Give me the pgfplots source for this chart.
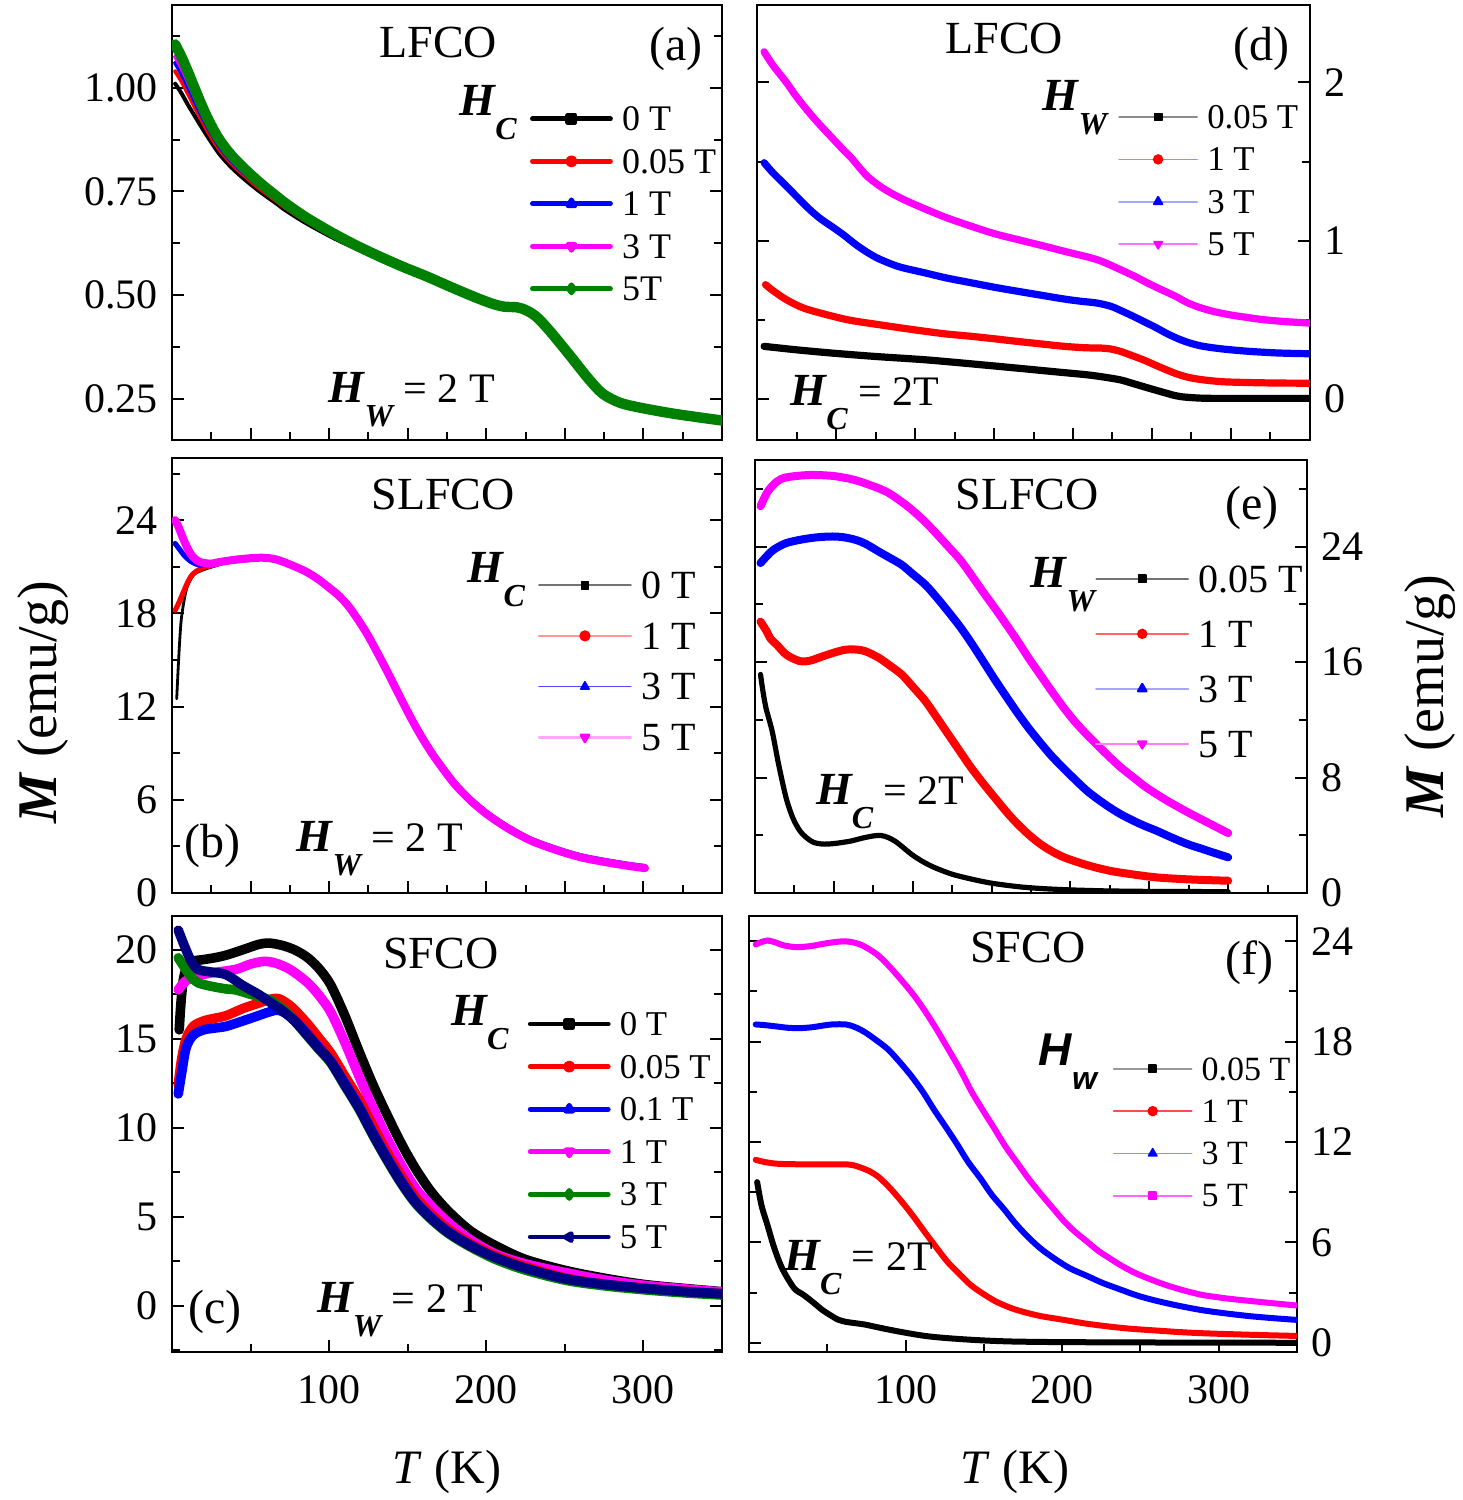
\documentclass[border=0pt]{standalone}
\usepackage{fontspec}
\setmainfont{Liberation Serif}
\setsansfont{Liberation Sans}
\usepackage{pgfplots}
\pgfplotsset{compat=1.18}
\definecolor{mygreen}{RGB}{0,128,0}
\definecolor{navy}{RGB}{0,0,128}
\definecolor{mag}{RGB}{255,0,255}
\definecolor{red}{RGB}{255,0,0}
\definecolor{blue}{RGB}{0,0,255}
\newcommand{\Hs}[2][11.5]{{\fontsize{#1}{#1}\selectfont\bfseries\itshape H}\raisebox{-6pt}{\fontsize{8}{8}\selectfont\bfseries\itshape #2}}
\newcommand{\Hss}[1]{{\sffamily\fontsize{11.5}{11.5}\selectfont\bfseries\itshape H}\raisebox{-6pt}{\sffamily\fontsize{8}{8}\selectfont\bfseries\itshape #1}}
\newcommand{\ttl}{\fontsize{11.5}{12}\selectfont}
\newcommand{\plab}{\fontsize{12}{12}\selectfont}
\newcommand{\eqf}{\fontsize{10.5}{12}\selectfont}
\pgfplotsset{
  panel/.style={
    scale only axis, anchor=south west,
    xmin=0, xmax=350,
    axis line style={line width=0.6pt},
    every tick/.style={black, line width=0.5pt},
    major tick length=3pt, minor tick length=2pt,
    tick align=inside,
    xtick pos=left, ytick pos=both,
    tick label style={font=\fontsize{10.5}{12}\selectfont},
    /pgf/number format/assume math mode=true,
    clip mode=individual,
    legend cell align=left,
    every axis plot/.append style={line join=round, line cap=round},
  },
  toprow/.style={xtick={50,100,...,300}, minor xtick={25,75,...,325}, xticklabels={}},
  botrow/.style={xtick={100,200,300}, minor xtick={50,150,250}, xticklabels={100,200,300},
     xticklabel style={yshift=-2.4pt}},
  leg/.style n args={7}{legend style={at={(#1,#2)}, anchor=north west, draw=none, fill=none,
     inner sep=0pt, outer sep=0pt, column sep=2.3pt, font=\fontsize{#3}{#3}\selectfont,
     nodes={inner sep=0pt, text height=#4, text depth=#5}},
     legend image code/.code={\draw[mark repeat=2,mark phase=2,##1] plot coordinates {(0pt,0pt) (#6,0pt) (#7,0pt)};}},
}
\begin{document}
\begin{tikzpicture}
\useasboundingbox (0,0) rectangle (365.75pt,375pt);
%================ (a)
\begin{axis}[panel, toprow, at={(43pt,265pt)}, width=137.5pt, height=108.75pt,
  ymin=0.15, ymax=1.2, ytick={0.25,0.5,0.75,1}, yticklabels={0.25,0.50,0.75,1.00},
  minor ytick={0.375,0.625,0.875,1.125}, yticklabel pos=left,
  leg={0.651}{0.787}{9}{8.26pt}{2.36pt}{9.75pt}{19.5pt}]
\addlegendimage{black, line width=1.2pt, mark=square*, mark size=0.9pt}
\addlegendentry{0 T}
\addlegendimage{red, line width=1.2pt, mark=*, mark size=0.9pt}
\addlegendentry{0.05 T}
\addlegendimage{blue, line width=1.2pt, mark=triangle*, mark size=1pt}
\addlegendentry{1 T}
\addlegendimage{mag, line width=1.2pt, mark=triangle*, mark size=1pt, mark options={rotate=180}}
\addlegendentry{3 T}
\addlegendimage{mygreen, line width=1.2pt, mark=diamond*, mark size=1pt}
\addlegendentry{5T}
\addplot[black, line width=1pt, smooth, forget plot] coordinates {(2,1.01)(6,0.987)(10,0.96)(14,0.935)(18,0.91)(22,0.886)(26,0.863)(30,0.841)(35,0.819)(40,0.80)(45,0.783)(50,0.767)(55,0.752)(60,0.738)(66,0.722)(72,0.705)(85,0.674)(102,0.639)(117,0.612)(132,0.587)(147,0.564)(162,0.543)(177,0.52)(192,0.496)(203,0.48)(211,0.472)(220,0.47)(226,0.462)(232,0.447)(240,0.415)(253,0.355)(265,0.298)(274,0.262)(285,0.24)(298,0.228)(320,0.213)(350,0.197)};
\addplot[red, line width=1pt, smooth, forget plot] coordinates {(2,1.04)(6,1.016)(10,0.987)(14,0.957)(18,0.928)(22,0.90)(26,0.874)(30,0.852)(35,0.829)(40,0.809)(45,0.792)(50,0.775)(55,0.759)(60,0.745)(66,0.728)(72,0.711)(85,0.679)(102,0.643)(117,0.615)(132,0.589)(147,0.565)(162,0.544)(177,0.52)(192,0.496)(203,0.48)(211,0.472)(220,0.47)(226,0.462)(232,0.447)(240,0.415)(253,0.355)(265,0.298)(274,0.262)(285,0.24)(298,0.228)(320,0.213)(350,0.197)};
\addplot[blue, line width=1pt, smooth, forget plot] coordinates {(2,1.06)(6,1.034)(10,1.003)(14,0.971)(18,0.939)(22,0.91)(26,0.883)(30,0.859)(35,0.835)(40,0.815)(45,0.797)(50,0.78)(55,0.764)(60,0.749)(66,0.732)(72,0.714)(85,0.682)(102,0.645)(117,0.616)(132,0.59)(147,0.566)(162,0.544)(177,0.52)(192,0.496)(203,0.48)(211,0.472)(220,0.47)(226,0.462)(232,0.447)(240,0.415)(253,0.355)(265,0.298)(274,0.262)(285,0.24)(298,0.228)(320,0.213)(350,0.197)};
\addplot[mag, line width=1pt, smooth, forget plot] coordinates {(2,1.075)(6,1.048)(10,1.016)(14,0.982)(18,0.948)(22,0.917)(26,0.889)(30,0.865)(35,0.84)(40,0.819)(45,0.801)(50,0.784)(55,0.768)(60,0.752)(66,0.735)(72,0.717)(85,0.684)(102,0.647)(117,0.618)(132,0.591)(147,0.567)(162,0.544)(177,0.52)(192,0.496)(203,0.48)(211,0.472)(220,0.47)(226,0.462)(232,0.447)(240,0.415)(253,0.355)(265,0.298)(274,0.262)(285,0.24)(298,0.228)(320,0.213)(350,0.197)};
\addplot[mygreen, line width=2.6pt, smooth, forget plot] coordinates {(2,1.105)(6,1.075)(10,1.04)(14,1.003)(18,0.966)(22,0.932)(26,0.902)(30,0.876)(35,0.85)(40,0.828)(45,0.809)(50,0.791)(55,0.774)(60,0.758)(66,0.74)(72,0.722)(85,0.688)(102,0.65)(117,0.62)(132,0.593)(147,0.568)(162,0.545)(177,0.52)(192,0.496)(203,0.48)(211,0.472)(220,0.47)(226,0.462)(232,0.447)(240,0.415)(253,0.355)(265,0.298)(274,0.262)(285,0.24)(298,0.228)(320,0.213)(350,0.197)};
\node at (rel axis cs:0.484,0.913) {\ttl LFCO};
\node at (rel axis cs:0.916,0.90) {\plab (a)};
\node at (rel axis cs:0.575,0.752) {\Hs{C}};
\node at (rel axis cs:0.436,0.092) {\Hs{W}{\eqf\ = 2 T}};
\end{axis}
%================ (b)
\begin{axis}[panel, toprow, at={(43pt,151.75pt)}, width=137.5pt, height=108.75pt,
  ymin=0, ymax=28, ytick={0,6,12,18,24}, minor ytick={3,9,15,21,27}, yticklabel pos=left,
  leg={0.665}{0.766}{10}{9.64pt}{3.04pt}{11.5pt}{23pt}]
\addlegendimage{black!55, line width=0.4pt, mark=square*, mark size=0.9pt, mark options={black}}
\addlegendentry{0 T}
\addlegendimage{red!40, line width=0.6pt, mark=*, mark size=1.1pt, mark options={red}}
\addlegendentry{1 T}
\addlegendimage{blue!70, line width=0.4pt, mark=triangle*, mark size=1.2pt, mark options={blue}}
\addlegendentry{3 T}
\addlegendimage{mag!35, line width=0.6pt, mark=triangle*, mark size=1.2pt, mark options={mag, rotate=180}}
\addlegendentry{5 T}
\addplot[black, line width=0.7pt, smooth, forget plot] coordinates {(3,12.5)(4,14.6)(5,16.4)(6,17.7)(8,19.0)(10,19.8)(14,20.5)(20,20.8)(26,21.0)(35,21.25)(50,21.4)(58,21.5)(66,21.45)(75,21.15)(85,20.7)(93,20.2)(100,19.65)(106,19.15)(112,18.5)(118,17.65)(124,16.7)(130,15.6)(136,14.45)(142,13.25)(148,12.05)(154,10.9)(160,9.85)(166,8.9)(172,8.05)(180,7.0)(190,5.95)(200,5.1)(210,4.4)(220,3.8)(230,3.3)(245,2.75)(260,2.3)(275,2.0)(290,1.75)(301,1.6)};
\addplot[red, line width=1.3pt, smooth, forget plot] coordinates {(2,18.2)(4,18.6)(7,19.3)(10,20.0)(13,20.5)(17,20.8)(22,21.0)(26,21.1)(30,21.25)(40,21.4)(50,21.5)(58,21.55)(66,21.45)(75,21.15)(85,20.7)(93,20.2)(100,19.65)(106,19.15)(112,18.5)(118,17.65)(124,16.7)(130,15.6)(136,14.45)(142,13.25)(148,12.05)(154,10.9)(160,9.85)(166,8.9)(172,8.05)(180,7.0)(190,5.95)(200,5.1)(210,4.4)(220,3.8)(230,3.3)(245,2.75)(260,2.3)(275,2.0)(290,1.75)(301,1.6)};
\addplot[blue, line width=1.3pt, smooth, forget plot] coordinates {(2,22.5)(5,22.1)(8,21.7)(12,21.35)(16,21.15)(20,21.1)(25,21.2)(30,21.3)(40,21.45)(50,21.55)(58,21.58)(66,21.48)(75,21.2)(85,20.75)(93,20.25)(100,19.7)(106,19.2)(112,18.58)(118,17.75)(124,16.8)(130,15.72)(136,14.58)(142,13.38)(148,12.18)(154,11.03)(160,9.97)(166,9.0)(172,8.15)(180,7.1)(190,6.05)(200,5.2)(210,4.5)(220,3.9)(230,3.4)(245,2.85)(260,2.4)(275,2.1)(290,1.85)(301,1.7)};
\addplot[mag, line width=2pt, smooth, forget plot] coordinates {(2,24.0)(4,23.6)(8,22.6)(12,21.8)(16,21.4)(20,21.25)(25,21.2)(30,21.3)(40,21.45)(50,21.55)(58,21.58)(66,21.48)(75,21.15)(85,20.7)(93,20.2)(100,19.65)(106,19.15)(112,18.5)(118,17.65)(124,16.7)(130,15.6)(136,14.45)(142,13.25)(148,12.05)(154,10.9)(160,9.85)(166,8.9)(172,8.05)(180,7.0)(190,5.95)(200,5.1)(210,4.4)(220,3.8)(230,3.3)(245,2.75)(260,2.3)(275,2.0)(290,1.75)(301,1.6)};
\node at (rel axis cs:0.493,0.917) {\ttl SLFCO};
\node at (rel axis cs:0.073,0.108) {\plab (b)};
\node at (rel axis cs:0.59,0.72) {\Hs{C}};
\node at (rel axis cs:0.378,0.103) {\Hs{W}{\eqf\ = 2 T}};
\end{axis}
%================ (c)
\begin{axis}[panel, botrow, at={(43pt,37pt)}, width=137.5pt, height=109pt,
  ymin=-2.6, ymax=21.9, ytick={0,5,10,15,20}, minor ytick={-2.5,2.5,7.5,12.5,17.5}, yticklabel pos=left,
  leg={0.647}{0.801}{8.7}{8.2pt}{2.45pt}{9.75pt}{19.5pt}]
\addlegendimage{black, line width=1.2pt, mark=square*, mark size=0.9pt}
\addlegendentry{0 T}
\addlegendimage{red, line width=1.2pt, mark=*, mark size=0.9pt}
\addlegendentry{0.05 T}
\addlegendimage{blue, line width=1.2pt, mark=triangle*, mark size=1pt}
\addlegendentry{0.1 T}
\addlegendimage{mag, line width=1.2pt, mark=triangle*, mark size=1pt, mark options={rotate=180}}
\addlegendentry{1 T}
\addlegendimage{mygreen, line width=1.2pt, mark=diamond*, mark size=1pt}
\addlegendentry{3 T}
\addlegendimage{navy, line width=1.2pt, mark=triangle*, mark size=1pt, mark options={rotate=90}}
\addlegendentry{5 T}
\addplot[black, line width=2.4pt, smooth, forget plot] coordinates {(4.6,15.5)(5.5,16.8)(7,18.2)(9,18.9)(13.5,19.35)(20,19.45)(27,19.55)(34.5,19.7)(45,20.0)(55,20.3)(61.6,20.38)(70,20.25)(78,20.0)(85.7,19.6)(93,19.0)(100.8,18.06)(110,16.3)(119,14.3)(128,12.4)(137,10.7)(146,9.1)(155,7.7)(165,6.4)(176,5.3)(190,4.2)(206,3.37)(225,2.6)(251,1.97)(275,1.55)(300,1.2)(325,0.98)(350,0.79)};
\addplot[mag, line width=2.4pt, smooth, forget plot] coordinates {(4,17.75)(8,18.2)(14.5,18.5)(25,18.7)(40.5,18.9)(50,19.2)(58.6,19.35)(66,19.25)(75,18.9)(85.7,18.2)(93,17.5)(101,16.5)(110,14.8)(119,12.9)(128,11.1)(137,9.4)(146,7.9)(155,6.6)(165,5.6)(176,4.66)(190,3.7)(206,2.9)(225,2.35)(251,1.85)(275,1.45)(300,1.15)(325,0.95)(350,0.77)};
\addplot[red, line width=2.4pt, smooth, forget plot] coordinates {(4,12.4)(6,13.8)(9,15.0)(13.5,15.7)(20,16.0)(27,16.15)(34.5,16.3)(45,16.7)(55,17.0)(61.6,17.2)(68,17.25)(76,16.8)(85.7,15.9)(93,15.1)(101,14.2)(110,12.9)(119,11.6)(128,10.1)(137,8.6)(146,7.3)(155,6.1)(165,5.15)(176,4.3)(190,3.5)(206,2.8)(225,2.2)(251,1.55)(275,1.22)(300,1.0)(325,0.82)(350,0.68)};
\addplot[blue, line width=2.4pt, smooth, forget plot] coordinates {(4,11.9)(6,13.0)(9,14.5)(13.5,15.2)(20,15.5)(27,15.6)(34.5,15.7)(45,16.0)(55,16.3)(61.6,16.5)(68,16.6)(76,16.2)(85.7,15.3)(93,14.55)(101,13.75)(110,12.5)(119,11.2)(128,9.7)(137,8.3)(146,7.0)(155,5.85)(165,4.95)(176,4.15)(190,3.4)(206,2.7)(225,2.1)(251,1.5)(275,1.2)(300,0.98)(325,0.8)(350,0.67)};
\addplot[mygreen, line width=2.4pt, smooth, forget plot] coordinates {(4,19.55)(8,19.0)(12,18.5)(16.5,18.15)(25,17.95)(34.5,17.8)(40.5,17.75)(50,17.5)(61.6,17.2)(70,16.7)(78,16.0)(85.7,15.2)(93,14.45)(101,13.65)(110,12.35)(119,11.05)(128,9.55)(137,8.15)(146,6.85)(155,5.75)(165,4.85)(176,4.05)(190,3.3)(206,2.6)(225,2.0)(251,1.42)(275,1.12)(300,0.9)(325,0.73)(350,0.6)};
\addplot[navy, line width=2.4pt, smooth, forget plot] coordinates {(4,21.1)(8,20.2)(12,19.4)(16.5,18.9)(25,18.75)(34.5,18.6)(45,18.0)(55,17.5)(61.6,17.1)(70,16.6)(78,16.0)(85.7,15.25)(93,14.5)(101,13.7)(110,12.4)(119,11.1)(128,9.6)(137,8.2)(146,6.9)(155,5.8)(165,4.9)(176,4.1)(190,3.35)(206,2.7)(225,2.1)(251,1.5)(275,1.2)(300,0.98)(325,0.8)(350,0.67)};
\node at (rel axis cs:0.489,0.915) {\ttl SFCO};
\node at (rel axis cs:0.078,0.092) {\plab (c)};
\node at (rel axis cs:0.56,0.755) {\Hs{C}};
\node at (rel axis cs:0.415,0.096) {\Hs{W}{\eqf\ = 2 T}};
\end{axis}
%================ (d)
\begin{axis}[panel, toprow, at={(189.25pt,265pt)}, width=138.25pt, height=108.75pt,
  ymin=-0.26, ymax=2.49, ytick={0,1,2}, minor ytick={0.5,1.5}, yticklabel pos=right,
  leg={0.653}{0.791}{8.7}{8.16pt}{2.42pt}{9.75pt}{19.5pt}]
\addlegendimage{black!45, line width=0.4pt, mark=square*, mark size=0.9pt, mark options={black}}
\addlegendentry{0.05 T}
\addlegendimage{red!55, line width=0.4pt, mark=*, mark size=1.1pt, mark options={red}}
\addlegendentry{1 T}
\addlegendimage{blue!35, line width=0.5pt, mark=triangle*, mark size=1.2pt, mark options={blue}}
\addlegendentry{3 T}
\addlegendimage{mag!55, line width=0.4pt, mark=triangle*, mark size=1.2pt, mark options={mag, rotate=180}}
\addlegendentry{5 T}
\addplot[black, line width=1.8pt, smooth, forget plot] coordinates {(4.5,0.332)(25,0.31)(48,0.289)(75,0.268)(106.5,0.247)(135,0.222)(165,0.194)(190,0.17)(209,0.152)(220,0.137)(230,0.12)(237,0.1)(244.4,0.078)(252,0.056)(259,0.036)(265,0.02)(271,0.011)(282.5,0.004)(300,0.003)(350,0.003)};
\addplot[red, line width=1.8pt, smooth, forget plot] coordinates {(5.4,0.722)(10,0.685)(18.6,0.627)(30,0.572)(48,0.522)(60,0.495)(77.2,0.469)(90,0.45)(106.5,0.427)(120,0.41)(136,0.395)(150,0.38)(165,0.363)(180,0.347)(194.5,0.332)(208,0.323)(218,0.321)(224,0.315)(230,0.30)(237,0.275)(244.4,0.247)(252,0.214)(259,0.184)(265,0.16)(271,0.141)(276,0.13)(282.5,0.12)(295,0.108)(312,0.103)(330,0.1)(350,0.099)};
\addplot[blue, line width=1.8pt, smooth, forget plot] coordinates {(4.5,1.493)(10,1.43)(18.6,1.345)(25,1.28)(33,1.2)(40,1.14)(48,1.085)(55,1.035)(60,0.995)(64,0.965)(70,0.925)(77.2,0.885)(90,0.835)(106.5,0.796)(120,0.764)(136,0.733)(150,0.706)(165,0.68)(180,0.655)(194.5,0.631)(205,0.617)(215,0.606)(224,0.585)(231,0.555)(238.5,0.52)(246,0.483)(253,0.448)(260,0.41)(268,0.374)(275,0.35)(282.5,0.332)(295,0.315)(312,0.30)(330,0.29)(350,0.285)};
\addplot[mag, line width=1.8pt, smooth, forget plot] coordinates {(4.5,2.194)(10,2.11)(18.6,2.0)(25,1.91)(33,1.81)(40,1.73)(48,1.645)(55,1.57)(60,1.52)(65,1.46)(70,1.405)(77,1.35)(85,1.3)(95,1.25)(106.5,1.2)(120,1.145)(136,1.09)(150,1.045)(165,1.007)(180,0.97)(194.5,0.933)(210,0.895)(218,0.87)(230,0.817)(240,0.77)(247,0.733)(256,0.69)(265,0.648)(272,0.61)(280,0.578)(290,0.55)(300,0.53)(310,0.515)(321,0.50)(335,0.488)(350,0.479)};
\node at (rel axis cs:0.447,0.924) {\ttl LFCO};
\node at (rel axis cs:0.913,0.90) {\plab (d)};
\node at (rel axis cs:0.575,0.763) {\Hs{W}};
\node at (rel axis cs:0.195,0.087) {\Hs{C}{\eqf\ = 2T}};
\end{axis}
%================ (e)
\begin{axis}[panel, toprow, at={(188.75pt,151.75pt)}, width=138pt, height=108.25pt,
  ymin=0, ymax=30, ytick={0,8,16,24}, minor ytick={4,12,20,28}, yticklabel pos=right,
  leg={0.616}{0.789}{10}{10.18pt}{3.57pt}{11.5pt}{23pt}]
\addlegendimage{black!55, line width=0.4pt, mark=square*, mark size=0.9pt, mark options={black}}
\addlegendentry{0.05 T}
\addlegendimage{red!60, line width=0.4pt, mark=*, mark size=1.1pt, mark options={red}}
\addlegendentry{1 T}
\addlegendimage{blue!35, line width=0.6pt, mark=triangle*, mark size=1.2pt, mark options={blue}}
\addlegendentry{3 T}
\addlegendimage{mag!50, line width=0.5pt, mark=triangle*, mark size=1.2pt, mark options={mag, rotate=180}}
\addlegendentry{5 T}
\addplot[black, line width=1.3pt, smooth, forget plot] coordinates {(3.5,15.14)(5,14.0)(7,12.8)(10.9,11.2)(15,8.9)(19.7,6.6)(24,5.2)(28.5,4.3)(33,3.8)(37.3,3.5)(42,3.4)(46,3.39)(52,3.45)(60.8,3.6)(68,3.8)(75.5,3.96)(80,3.98)(84.3,3.85)(90,3.5)(99,2.7)(106,2.2)(113.7,1.77)(125,1.3)(137,0.97)(150,0.68)(166.6,0.44)(180,0.32)(196,0.23)(210,0.18)(225,0.14)(250,0.11)(275,0.1)(300,0.09)};
\addplot[red, line width=2pt, smooth, forget plot] coordinates {(3.5,18.8)(7,18.2)(10,17.6)(13.8,17.2)(20,16.5)(28.5,16.06)(35,16.1)(43,16.4)(50,16.65)(57,16.85)(63.7,16.87)(70,16.75)(78.4,16.3)(85,15.8)(93,15.14)(100,14.3)(108,13.3)(115,12.2)(122.5,11.0)(130,9.8)(137,8.69)(145,7.55)(152,6.61)(160,5.55)(166.6,4.77)(174,4.0)(181,3.39)(188,2.9)(196,2.47)(210,1.95)(225,1.54)(240,1.28)(254.7,1.08)(270,0.97)(285,0.9)(300,0.85)};
\addplot[blue, line width=2pt, smooth, forget plot] coordinates {(3.5,22.86)(8,23.4)(12,23.8)(19.7,24.24)(30,24.5)(40,24.65)(49,24.7)(56,24.65)(63.7,24.47)(70,24.2)(78.4,23.66)(85,23.25)(93,22.74)(100,22.1)(108,21.36)(115,20.5)(122.5,19.5)(130,18.45)(137,17.35)(145,16.0)(152,14.8)(160,13.5)(166.6,12.45)(174,11.35)(181,10.4)(188,9.5)(196,8.6)(203,7.85)(210.6,7.07)(218,6.45)(225,5.92)(232,5.45)(240,5.0)(247,4.65)(254.7,4.31)(262,3.95)(269,3.62)(276,3.32)(284,3.04)(292,2.75)(300,2.47)};
\addplot[mag, line width=2pt, smooth, forget plot] coordinates {(3.5,26.8)(8,27.8)(13.8,28.5)(20,28.8)(34.4,28.96)(49,28.9)(60,28.7)(66.7,28.5)(72,28.3)(78.4,28.04)(85,27.7)(93,27.1)(100,26.5)(108,25.7)(115,24.9)(122.5,24.0)(130,23.1)(137,22.05)(145,20.8)(152,19.75)(160,18.5)(166.6,17.44)(174,16.2)(181,15.1)(188,14.0)(196,12.8)(203,11.85)(210.6,10.95)(218,10.15)(225,9.4)(232,8.7)(240,8.0)(247,7.4)(254.7,6.84)(262,6.35)(269,5.92)(276,5.5)(284,5.05)(292,4.6)(300,4.15)};
\node at (rel axis cs:0.493,0.921) {\ttl SLFCO};
\node at (rel axis cs:0.90,0.889) {\plab (e)};
\node at (rel axis cs:0.558,0.711) {\Hs{W}};
\node at (rel axis cs:0.245,0.21) {\Hs{C}{\eqf\ = 2T}};
\end{axis}
%================ (f)
\begin{axis}[panel, botrow, at={(187.25pt,37pt)}, width=137pt, height=109pt,
  ymin=-0.55, ymax=25.5, ytick={0,6,12,18,24}, minor ytick={3,9,15,21}, yticklabel pos=right,
  leg={0.664}{0.698}{8.5}{8.09pt}{2.49pt}{9.75pt}{19.5pt}]
\addlegendimage{black!40, line width=0.4pt, mark=square*, mark size=0.9pt, mark options={black}}
\addlegendentry{0.05 T}
\addlegendimage{red!70, line width=0.4pt, mark=*, mark size=1.1pt, mark options={red}}
\addlegendentry{1 T}
\addlegendimage{blue!45, line width=0.4pt, mark=triangle*, mark size=1.2pt, mark options={blue}}
\addlegendentry{3 T}
\addlegendimage{mag!60, line width=0.4pt, mark=square*, mark size=0.9pt, mark options={mag}}
\addlegendentry{5 T}
\addplot[black, line width=1.5pt, smooth, forget plot] coordinates {(5.2,9.6)(8,8.2)(11.7,7.06)(16,5.7)(20.6,4.56)(25,3.8)(29.5,3.19)(35,2.85)(41.3,2.39)(47,1.95)(53,1.59)(57,1.38)(62,1.25)(68,1.17)(74,1.09)(80,0.97)(88.7,0.8)(100,0.6)(112.4,0.41)(125,0.29)(142,0.18)(157,0.11)(171.7,0.07)(200,0.04)(250,0.02)(300,0.01)(349.5,0.0)};
\addplot[red, line width=1.5pt, smooth, forget plot] coordinates {(4.3,10.93)(10,10.8)(17.6,10.7)(28,10.67)(38.4,10.66)(50,10.66)(62,10.66)(67,10.6)(71,10.48)(77,10.25)(82.8,9.9)(90,9.25)(97.6,8.43)(105,7.55)(112.4,6.6)(120,5.65)(127.3,4.78)(135,4.05)(142,3.42)(150,2.9)(157,2.5)(164,2.2)(171.7,1.94)(185,1.62)(201,1.37)(215,1.15)(231,0.96)(245,0.83)(260.6,0.73)(275,0.64)(290,0.57)(320,0.48)(349.5,0.41)};
\addplot[blue, line width=1.5pt, smooth, forget plot] coordinates {(4.3,19.02)(10,18.98)(17.6,18.9)(25,18.82)(32.4,18.8)(40,18.85)(47,18.95)(53,19.02)(62,19.02)(68,18.85)(74,18.56)(81,18.1)(88.7,17.54)(96,16.8)(103.6,15.95)(111,15.0)(118.4,13.9)(126,12.85)(133,11.85)(140,10.8)(148,9.8)(155,8.85)(163,7.97)(170,7.15)(177.6,6.38)(186,5.65)(195.4,5.01)(205,4.45)(216,3.99)(226,3.57)(237,3.19)(248,2.82)(260.6,2.5)(275,2.2)(290,1.94)(305,1.75)(320,1.59)(335,1.47)(349.5,1.37)};
\addplot[mag, line width=1.5pt, smooth, forget plot] coordinates {(4.3,23.8)(8,23.95)(11.7,24.03)(16,23.95)(22,23.75)(29.5,23.64)(35,23.66)(41.3,23.73)(50,23.88)(59,23.98)(65,23.95)(71,23.8)(77,23.5)(82.8,23.12)(90,22.45)(97.6,21.64)(105,20.8)(112.4,19.82)(120,18.7)(127.3,17.54)(135,16.3)(142,15.03)(150,13.8)(157,12.76)(164,11.7)(171.7,10.7)(179,9.75)(186.5,8.88)(194,8.05)(201,7.29)(208,6.65)(216,6.04)(223,5.5)(231,5.01)(238,4.6)(245.8,4.21)(253,3.92)(260.6,3.64)(268,3.4)(275.4,3.19)(283,3.0)(290,2.85)(305,2.65)(320,2.5)(335,2.36)(349.5,2.23)};
\node at (rel axis cs:0.509,0.927) {\ttl SFCO};
\node at (rel axis cs:0.914,0.894) {\plab (f)};
\node at (rel axis cs:0.582,0.665) {\Hss{w}};
\node at (rel axis cs:0.2,0.193) {\Hs{C}{\eqf\ = 2T}};
\end{axis}
%================ outer labels
\node[rotate=90] at (10.75pt,199.5pt) {\fontsize{14}{14}\selectfont\textbf{\textit{M}} (emu/g)};
\node[rotate=90] at (357.5pt,201pt) {\fontsize{14}{14}\selectfont\textbf{\textit{M}} (emu/g)};
\node at (111.75pt,7pt) {\fontsize{12}{12}\selectfont\textit{T} (K)};
\node at (253.75pt,7pt) {\fontsize{12}{12}\selectfont\textit{T} (K)};
\end{tikzpicture}
\end{document}
